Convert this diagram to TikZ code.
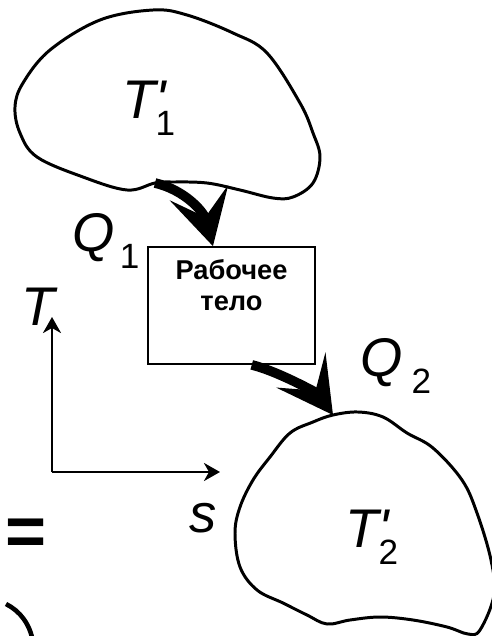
\documentclass[tikz,border=0pt]{standalone}
\usepackage{fontspec}
\setmainfont{Liberation Sans}
\usepackage{tikz}
\usetikzlibrary{arrows.meta,calc}

\tikzset{
  reservoir/.style={line width=1.7pt, line join=round},
  heat/.style={line width=5.5pt, -{Stealth[length=1.1cm, width=1.2cm, inset=0.5cm]}},
  axisline/.style={line width=1.7pt, -{Stealth[length=0.32cm, width=0.36cm, inset=0.1cm]}},
  bigletter/.style={inner sep=0pt, anchor=base west, font=\fontsize{31}{31}\selectfont\itshape},
  workbox/.style={draw, line width=1pt, minimum width=3.34cm, minimum height=2.34cm, align=center, font=\fontsize{15.5}{17.6}\selectfont\bfseries}
}
\newcommand{\lowidx}[1]{\raisebox{-0.33em}{\upshape\fontsize{20}{20}\selectfont #1}}

\begin{document}
\begin{tikzpicture}[x=0.02cm, y=-0.02cm]
\useasboundingbox (0,0) rectangle (491,636);

\draw[reservoir] plot[smooth cycle, tension=0.6] coordinates {
  (155,183) (127,190) (83,177) (37,157) (20,133) (15,107) (23,83) (50,50)
  (100,20) (153,10) (187,15) (233,33) (267,53) (300,103) (313,133) (320,157)
  (313,183) (293,197) (273,198) (240,190) (207,183) (173,182)};
\coordinate (out1) at (155,183);
\node[bigletter] (t1) at (122,118) {T\rlap{\textquotesingle}\lowidx{1}};

\draw[reservoir] plot[smooth cycle, tension=0.6] coordinates {
  (333,415) (358,412) (383,417) (407,433) (433,448) (462,480) (477,513)
  (491,560) (494,595) (480,630) (468,634) (447,627) (413,620) (380,617)
  (350,620) (327,624) (307,615) (283,603) (257,590) (240,567) (235,533)
  (240,507) (253,480) (270,457) (290,433) (313,422)};
\coordinate (in2) at (333,415);
\node[bigletter] (t2) at (345,547) {T\rlap{\textquotesingle}\lowidx{2}};

\node[workbox] (wbody) at (231.5,305.5) {Рабочее\\тело\\\strut};

\draw[heat] (out1) .. controls (185,190) and (204,212) .. ($(wbody.north west)!0.39!(wbody.north east)$);
\draw[heat] ($(wbody.south west)!0.62!(wbody.south east)$) .. controls (280,372) and (318,394) .. (in2);
\node[bigletter] (q1) at (72,251) {Q\hspace{3pt}\lowidx{1}};
\node[bigletter] (q2) at (360,376) {Q\hspace{5pt}\lowidx{2}};

\coordinate (origin) at (52,472);
\coordinate (tend) at (52,317);
\coordinate (send) at (220,472);
\draw[axisline] (origin) -- (tend);
\draw[axisline] (origin) -- (send);
\node[bigletter] (tlab) at (21,325) {T};
\node[bigletter] (slab) at (189,532) {s};

\node[inner sep=0pt, font=\fontsize{40}{40}\selectfont\bfseries] (eq) at (26,537) {=};
\draw[line width=2.6pt] (6,604) .. controls (20,611) and (30,624) .. (33,642);
\end{tikzpicture}
\end{document}
